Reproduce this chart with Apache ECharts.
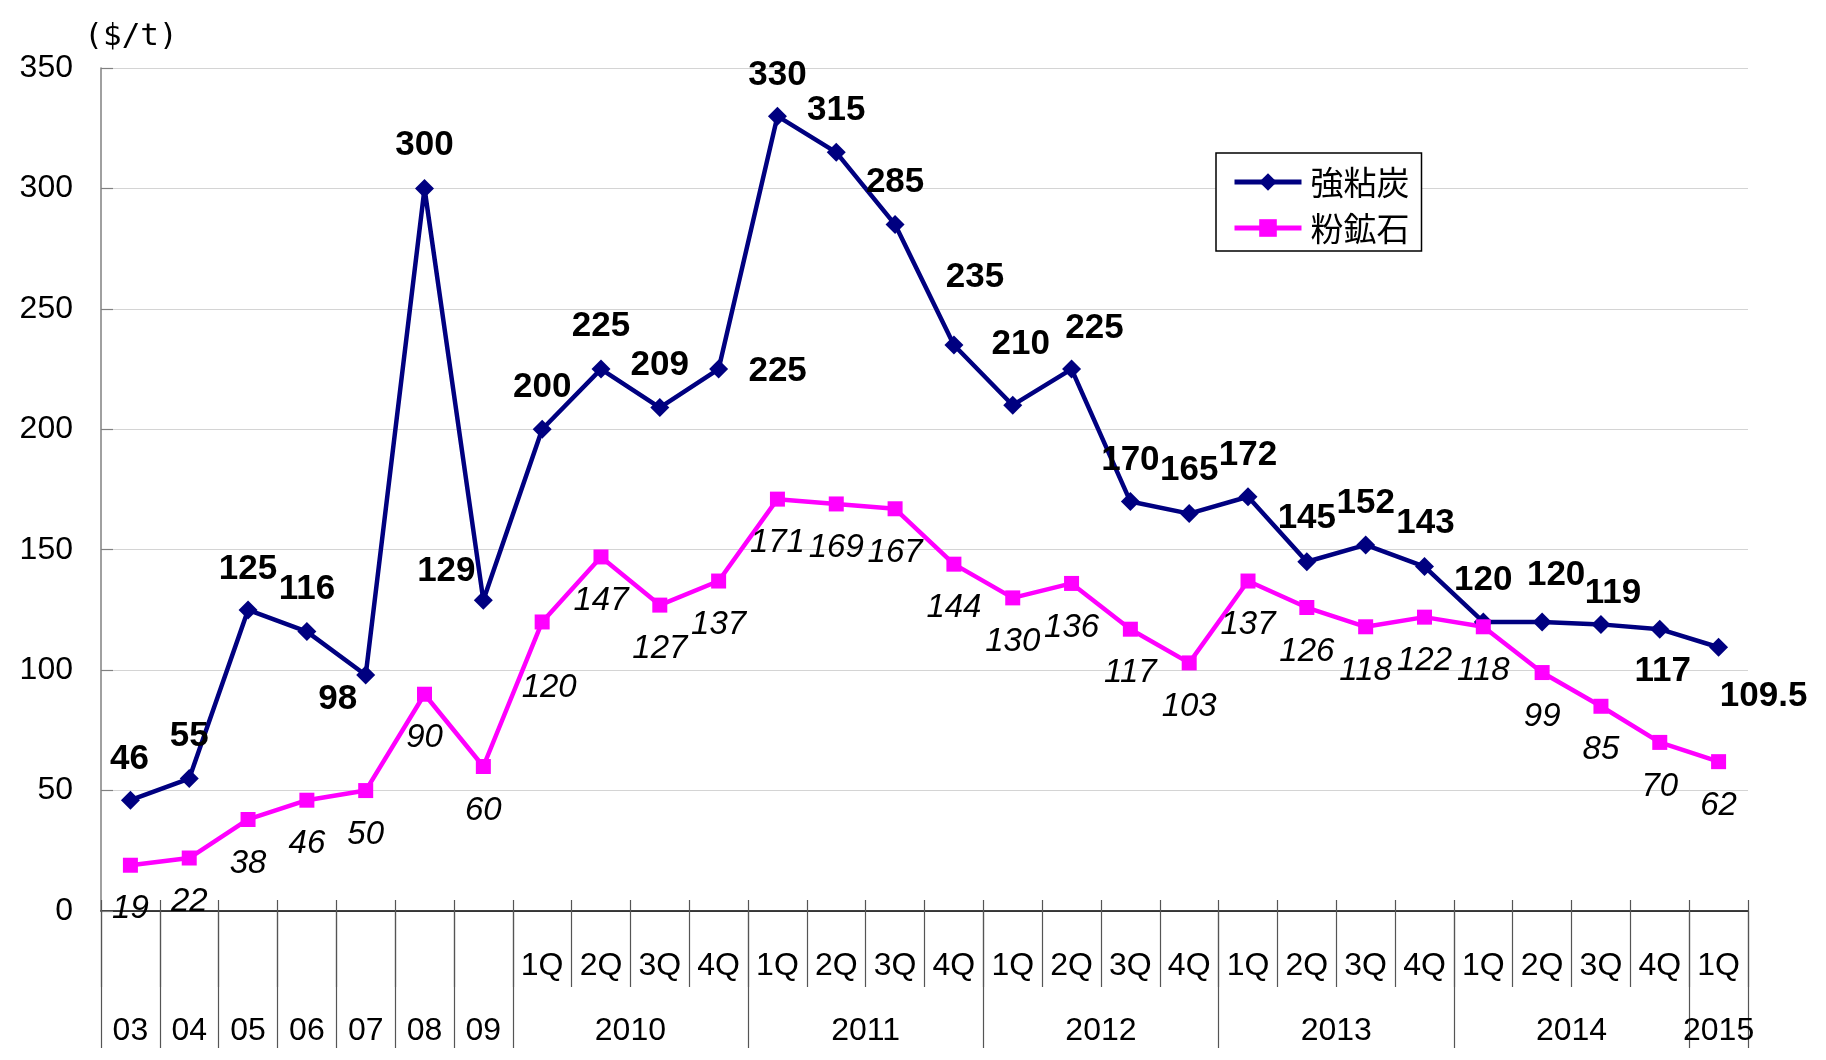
<!DOCTYPE html>
<html>
<head>
<meta charset="utf-8">
<script src="https://cdn.jsdelivr.net/npm/echarts@6/dist/echarts.min.js"></script>
<style>
html,body{margin:0;padding:0;background:#fff;}
#chart{width:1826px;height:1060px;}
</style>
</head>
<body>
<div id="chart"></div>
<script>
// 期間：03〜09年は年次、2010年以降は四半期
const categories = ['03','04','05','06','07','08','09',
  '2010-1Q','2010-2Q','2010-3Q','2010-4Q',
  '2011-1Q','2011-2Q','2011-3Q','2011-4Q',
  '2012-1Q','2012-2Q','2012-3Q','2012-4Q',
  '2013-1Q','2013-2Q','2013-3Q','2013-4Q',
  '2014-1Q','2014-2Q','2014-3Q','2014-4Q',
  '2015-1Q'];
const periods = ['03','04','05','06','07','08','09','2010','2011','2012','2013','2014','2015'];
const periodSpans = [1,1,1,1,1,1,1,4,4,4,4,4,1];

// 強粘炭 / 粉鉱石 ($/t)
const coal = [46,55,125,116,98,300,129,200,225,209,225,330,315,285,235,210,225,170,165,172,145,152,143,120,120,119,117,109.5];
const ore = [19,22,38,46,50,90,60,120,147,127,137,171,169,167,144,130,136,117,103,137,126,118,122,118,99,85,70,62];

// ラベルのずらし量
const coalLabelOffset = [[-1,-41],[0,-42],[0,-41],[0,-42],[-28,24],[0,-43],[-37,-29],[0,-42],[0,-43],[0,-42],
  [59,2],[0,-41],[0,-42],[0,-42],[21,-68],[8,-61],[23,-41],[0,-41],[0,-43],[0,-41],
  [0,-43],[0,-42],[1,-43],[0,-42],[14,-47],[12,-31],[3,42],[45,49]];
const oreLabelOffset = ore.map((v, i) => i === 7 ? [7,66] : [0,44]);

const quarterLabels = categories.map(c => c.includes('-') ? c.split('-')[1] : '');
const periodStarts = [];
let acc = 0;
periodSpans.forEach(s => { periodStarts.push(acc); acc += s; });
// 年ラベル用（半カテゴリ刻みの軸）
const yearSlots = new Array(categories.length * 2 + 1).fill('');
periods.forEach((p, i) => { yearSlots[2 * periodStarts[i] + periodSpans[i]] = p; });

const baseFont = 'Liberation Sans';
const tickColor = '#555';
const chart = echarts.init(document.getElementById('chart'));
chart.setOption({
  animation: false,
  backgroundColor: '#fff',
  grid: {left: 101, right: 78, top: 68, bottom: 149, outerBoundsMode: 'none'},
  legend: {
    orient: 'vertical',
    left: 1216, top: 153,
    padding: [12, 12, 6, 16],
    itemGap: 12,
    itemWidth: 67, itemHeight: 22,
    borderColor: '#000', borderWidth: 1.5,
    backgroundColor: '#fff',
    lineStyle: {width: 5},
    textStyle: {fontFamily: 'Noto Sans CJK JP', fontSize: 33, color: '#000', lineHeight: 34, padding: [0,0,0,4]},
    data: ['強粘炭', '粉鉱石']
  },
  xAxis: [
    {
      type: 'category', data: categories,
      axisLine: {show: true, lineStyle: {color: '#000', width: 1.5}},
      axisTick: {show: true, inside: true, length: 11, interval: 0, lineStyle: {color: tickColor, width: 1.2}},
      axisLabel: {show: false}
    },
    {
      type: 'category', data: quarterLabels, position: 'bottom',
      axisLine: {show: false},
      axisTick: {show: true, length: 76, interval: 0, lineStyle: {color: tickColor, width: 1.2}},
      axisLabel: {interval: 0, margin: 39, fontFamily: baseFont, fontSize: 32, color: '#000'}
    },
    {
      type: 'category', data: categories, position: 'bottom',
      axisLine: {show: false},
      axisTick: {show: true, length: 137, interval: (idx) => periodStarts.includes(idx), lineStyle: {color: tickColor, width: 1.2}},
      axisLabel: {show: false}
    },
    {
      type: 'category', data: yearSlots, position: 'bottom', boundaryGap: false,
      axisLine: {show: false},
      axisTick: {show: false},
      axisLabel: {interval: 0, margin: 104, fontFamily: baseFont, fontSize: 32, color: '#000'}
    }
  ],
  yAxis: {
    type: 'value', min: 0, max: 350, interval: 50,
    name: '($/t)', nameLocation: 'end', nameGap: 16,
    nameTextStyle: {fontFamily: 'DejaVu Sans Mono', fontSize: 31, color: '#000', padding: [0,0,0,60]},
    axisLine: {show: true, lineStyle: {color: '#808080', width: 1.5}},
    axisTick: {show: true, inside: true, length: 12, lineStyle: {color: '#808080', width: 1.2}},
    axisLabel: {margin: 28, padding: [8,0,0,0], fontFamily: baseFont, fontSize: 32, color: '#000'},
    splitLine: {show: true, lineStyle: {color: '#d4d4d4', width: 1.2}}
  },
  series: [
    {
      name: '強粘炭', type: 'line', xAxisIndex: 0,
      symbol: 'diamond', symbolSize: 19,
      lineStyle: {color: '#000080', width: 4.5},
      itemStyle: {color: '#000080'},
      label: {show: true, position: 'inside', color: '#000', fontWeight: 'bold', fontSize: 35, fontFamily: baseFont},
      data: coal.map((v, i) => ({value: v, label: {offset: coalLabelOffset[i]}}))
    },
    {
      name: '粉鉱石', type: 'line', xAxisIndex: 0,
      symbol: 'rect', symbolSize: 15,
      lineStyle: {color: '#ff00ff', width: 4.5},
      itemStyle: {color: '#ff00ff'},
      label: {show: true, position: 'inside', color: '#000', fontStyle: 'italic', fontSize: 33, fontFamily: baseFont},
      data: ore.map((v, i) => ({value: v, label: {offset: oreLabelOffset[i]}}))
    }
  ]
});
</script>
</body>
</html>
